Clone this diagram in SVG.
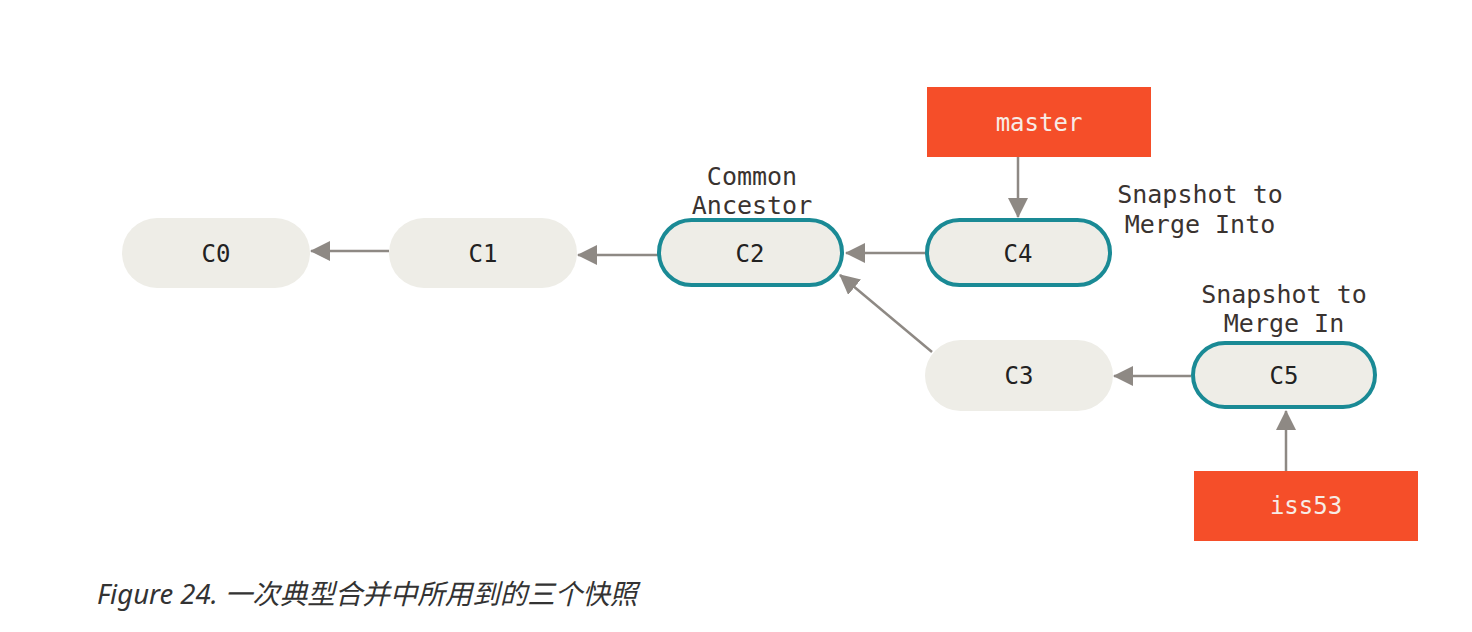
<svg xmlns="http://www.w3.org/2000/svg" width="1472" height="632" viewBox="0 0 1472 632">
<defs>
<style>
.node{fill:#eeede7;}
.hl{fill:#eeede7;stroke:#1a8a95;stroke-width:4;}
.branch{fill:#f54e29;}
.lbl{font-family:"DejaVu Sans Mono","Liberation Mono",monospace;font-size:24px;fill:#222;text-anchor:middle;}
.blbl{font-family:"DejaVu Sans Mono","Liberation Mono",monospace;font-size:24px;fill:#f7ece6;text-anchor:middle;}
.note{font-family:"DejaVu Sans Mono","Liberation Mono",monospace;font-size:25px;fill:#3a3330;text-anchor:middle;}
.edge{stroke:#8e8984;stroke-width:2.5;fill:none;marker-end:url(#ah);}
.cap{font-family:"Noto Sans","Noto Sans CJK SC",sans-serif;font-size:27.5px;font-style:italic;fill:#333;}
</style>
<marker id="ah" viewBox="0 0 20 20" refX="19" refY="10" markerWidth="20" markerHeight="20" markerUnits="userSpaceOnUse" orient="auto">
<path d="M0,0 L20,10 L0,20 z" fill="#8e8984"/>
</marker>
</defs>
<rect width="1472" height="632" fill="#fff"/>
<g id="connectors">
<line class="edge" x1="389" y1="251" x2="311" y2="251"/>
<line class="edge" x1="658" y1="255" x2="578" y2="255"/>
<line class="edge" x1="925" y1="253" x2="846" y2="253"/>
<line class="edge" x1="1018" y1="157" x2="1018" y2="217"/>
<line class="edge" x1="932" y1="352" x2="840" y2="275"/>
<line class="edge" x1="1191" y1="376" x2="1114" y2="376"/>
<line class="edge" x1="1286" y1="471" x2="1286" y2="411"/>
</g>
<g id="C0"><rect class="node" x="122" y="218" width="188" height="70" rx="35"/><text class="lbl" x="216" y="262">C0</text></g>
<g id="C1"><rect class="node" x="389" y="218" width="188" height="70" rx="35"/><text class="lbl" x="483" y="262">C1</text></g>
<g id="C2"><rect class="hl" x="659" y="220" width="183" height="65" rx="32.5"/><text class="lbl" x="750" y="262">C2</text></g>
<g id="C4"><rect class="hl" x="927" y="220" width="183" height="65" rx="32.5"/><text class="lbl" x="1018" y="262">C4</text></g>
<g id="C3"><rect class="node" x="925" y="340" width="188" height="71" rx="35.5"/><text class="lbl" x="1019" y="384">C3</text></g>
<g id="C5"><rect class="hl" x="1193" y="343" width="182" height="64" rx="32"/><text class="lbl" x="1284" y="384">C5</text></g>
<g id="master"><rect class="branch" x="927" y="87" width="224" height="70"/><text class="blbl" x="1039" y="131">master</text></g>
<g id="iss53"><rect class="branch" x="1194" y="471" width="224" height="70"/><text class="blbl" x="1306" y="514">iss53</text></g>
<g id="note-common"><text class="note" x="752" y="185">Common</text><text class="note" x="752" y="214">Ancestor</text></g>
<g id="note-into"><text class="note" x="1200" y="203">Snapshot to</text><text class="note" x="1200" y="233">Merge Into</text></g>
<g id="note-in"><text class="note" x="1284" y="303">Snapshot to</text><text class="note" x="1284" y="332">Merge In</text></g>
<text class="cap" x="97" y="604">Figure 24. 一次典型合并中所用到的三个快照</text>
</svg>
